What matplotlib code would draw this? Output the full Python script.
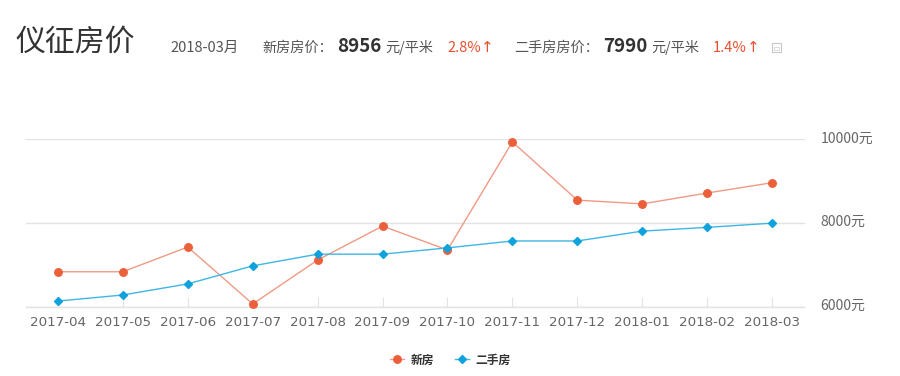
import matplotlib
matplotlib.use('Agg')
import matplotlib.pyplot as plt
from matplotlib.patches import Rectangle
from matplotlib.transforms import ScaledTranslation

plt.rcParams['font.family'] = ['Noto Sans CJK SC', 'DejaVu Sans']

months = ['2017-04', '2017-05', '2017-06', '2017-07', '2017-08', '2017-09',
          '2017-10', '2017-11', '2017-12', '2018-01', '2018-02', '2018-03']
new_price = [6830, 6830, 7420, 6060, 7110, 7920, 7350, 9930, 8540, 8450, 8710, 8956]
old_price = [6130, 6275, 6540, 6970, 7250, 7250, 7400, 7565, 7565, 7800, 7890, 7990]
y_ticks = [6000, 8000, 10000]

W, H = 900, 376
RED = '#EC5F3B'
RED_LINE = '#F09A85'
BLUE = '#0FA2DC'
BLUE_LINE = '#3DB7E4'
GRID = '#E3E3E3'
GREY = '#666666'
UP = '#E8502F'

fig = plt.figure(figsize=(W / 100, H / 100), dpi=100)
ax = fig.add_axes([25.5 / W, 1 - 306.5 / H, 779 / W, 167.5 / H])


def put(x, y, s, size, color=GREY, **kw):
    # x, y in pixels from the top left corner
    fig.text(x / W, 1 - y / H, s, fontsize=size, color=color, va='center', **kw)


xs = list(range(len(months)))
ax.plot(xs, new_price, color=RED_LINE, lw=1.0, marker='o', ms=5.4,
        mfc=RED, mec=RED, label='新房', clip_on=False, zorder=3)
ax.plot(xs, old_price, color=BLUE_LINE, lw=1.0, marker='D', ms=3.8,
        mfc=BLUE, mec=BLUE, label='二手房', clip_on=False, zorder=4)

ax.set_xlim(-0.5, len(months) - 0.5)
ax.set_ylim(6000, 10000)
ax.set_xticks(xs)
ax.set_xticklabels(months, fontsize=9.7, color=GREY, family='DejaVu Sans')
ax.set_yticks(y_ticks)
ax.set_yticklabels([f'{v}元' for v in y_ticks], fontsize=10, color=GREY)
ax.yaxis.tick_right()
ax.tick_params(axis='x', direction='in', length=7.2, width=0.8, color=GRID, pad=7)
ax.tick_params(axis='y', length=0, pad=11.5)
ax.grid(axis='y', color=GRID, lw=1)
ax.set_axisbelow(True)
for side in ['top', 'left', 'right']:
    ax.spines[side].set_visible(False)
ax.spines['bottom'].set_color(GRID)
ax.spines['bottom'].set_linewidth(1)

# y labels sit a little above their grid lines
shift = ScaledTranslation(0, 2 / 100, fig.dpi_scale_trans)
for lab in ax.get_yticklabels():
    lab.set_transform(lab.get_transform() + shift)

leg = ax.legend(loc='center', bbox_to_anchor=(450.5 / W, 1 - 360 / H),
                bbox_transform=fig.transFigure, ncol=2, frameon=False,
                fontsize=8.5, handlelength=1.2, columnspacing=1.75, handletextpad=0.55)
for t in leg.get_texts():
    t.set_color('#333333')
    t.set_fontweight('bold')

# header row
put(15, 42, '仪征房价', 21.5, '#333333')
put(170, 47.5, '2018-03月', 10.5, '#555555')
put(262, 47.5, '新房房价：', 10.2, '#555555')
put(337, 46, '8956', 13.5, '#333333', fontweight='bold')
put(385, 47.5, '元/平米', 10.2, '#555555')
put(447, 47.5, '2.8%', 10.5, UP)
put(481, 47.5, '↑', 11, UP, family='DejaVu Sans')
put(514, 47.5, '二手房房价：', 10.2, '#555555')
put(603, 46, '7990', 13.5, '#333333', fontweight='bold')
put(651, 47.5, '元/平米', 10.2, '#555555')
put(713, 47.5, '1.4%', 10.5, UP)
put(747, 47.5, '↑', 11, UP, family='DejaVu Sans')

# small table icon next to the header
fig.add_artist(Rectangle((772 / W, 1 - 51.5 / H), 9 / W, 9 / H, fill=False,
                         ec='#C8C8C8', lw=0.8, transform=fig.transFigure))
fig.add_artist(Rectangle((774 / W, 1 - 49.5 / H), 5 / W, 3 / H, fill=False,
                         ec='#D5D5D5', lw=0.6, transform=fig.transFigure))

fig.savefig('out.png', dpi=100)
